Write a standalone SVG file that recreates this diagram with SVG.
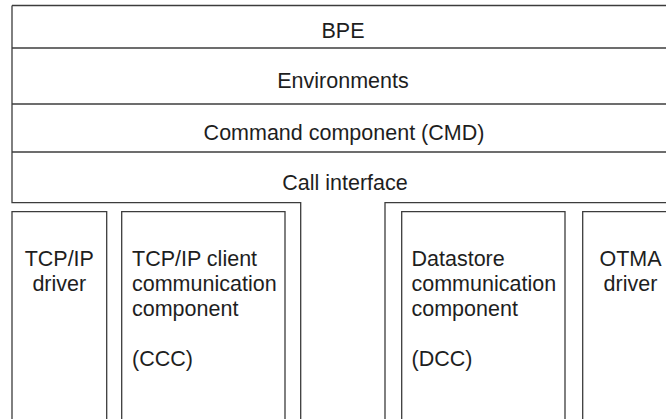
<svg xmlns="http://www.w3.org/2000/svg" width="666" height="419" viewBox="0 0 666 419">
<style>
.ln{fill:none;stroke:#3c3c3c;stroke-width:1.3}
.t{font-family:"Liberation Sans",Arial,sans-serif;font-size:21.5px;fill:#1e1e1e}
.c{text-anchor:middle}
</style>
<rect width="666" height="419" fill="#ffffff"/>
<g id="bpe">
<path class="ln" d="M12,5.5 H666"/>
<text class="t c" x="343" y="38">BPE</text>
</g>
<g id="environments">
<path class="ln" d="M12,48 H666"/>
<text class="t c" x="343" y="88">Environments</text>
</g>
<g id="cmd">
<path class="ln" d="M12,104 H666"/>
<text class="t c" x="344" y="140">Command component (CMD)</text>
</g>
<g id="call-interface">
<path class="ln" d="M12,152 H666"/>
<path class="ln" d="M12,5.5 V202.7 H300.7 V419"/>
<path class="ln" d="M666,202.7 H385 V419"/>
<text class="t c" x="345" y="190">Call interface</text>
</g>
<g id="tcpip-driver">
<path class="ln" d="M12,419 V211.7 H106.7 V419"/>
<text class="t c" x="59.3" y="266">TCP/IP</text>
<text class="t c" x="59.3" y="291">driver</text>
</g>
<g id="ccc">
<path class="ln" d="M121.7,419 V211.7 H285 V419"/>
<text class="t" x="132" y="266">TCP/IP client</text>
<text class="t" x="132" y="291">communication</text>
<text class="t" x="132" y="316">component</text>
<text class="t" x="132" y="366">(CCC)</text>
</g>
<g id="dcc">
<path class="ln" d="M401.7,419 V211.7 H565 V419"/>
<text class="t" x="411.5" y="266">Datastore</text>
<text class="t" x="411.5" y="291">communication</text>
<text class="t" x="411.5" y="316">component</text>
<text class="t" x="411.5" y="366">(DCC)</text>
</g>
<g id="otma-driver">
<path class="ln" d="M582.7,419 V211.7 H670"/>
<text class="t c" x="630.5" y="266">OTMA</text>
<text class="t c" x="630.5" y="291">driver</text>
</g>
<g id="connectors"></g>
</svg>
